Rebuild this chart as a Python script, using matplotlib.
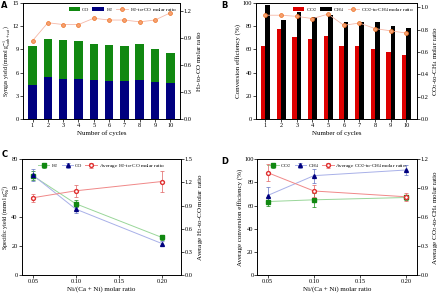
import numpy as np
import matplotlib
matplotlib.use("Agg")
import matplotlib.pyplot as plt

plt.rcParams['font.family'] = ['Liberation Serif', 'DejaVu Serif']
plt.rcParams['mathtext.fontset'] = 'stix'
plt.rcParams['font.size'] = 5

# ---- data ----
cycles = np.arange(1, 11)
h2_yield = [4.37, 5.40, 5.19, 5.14, 5.06, 4.97, 4.93, 5.01, 4.76, 4.63]
total_yield = [9.43, 10.37, 10.16, 10.07, 9.64, 9.51, 9.47, 9.69, 9.09, 8.57]
co_yield = [t - h for t, h in zip(total_yield, h2_yield)]
h2_co_ratio = [0.87, 1.07, 1.05, 1.05, 1.12, 1.10, 1.10, 1.08, 1.10, 1.18]

co2_conv = [62.7, 77.4, 70.5, 69.3, 71.3, 62.7, 63.3, 60.5, 57.6, 55.6]
ch4_conv = [98.5, 85.0, 92.3, 88.0, 89.4, 84.0, 83.7, 84.0, 80.0, 78.2]
co2_ch4_ratio = [0.93, 0.93, 0.92, 0.90, 0.94, 0.84, 0.86, 0.81, 0.79, 0.77]

ni_ratio = [0.05, 0.10, 0.20]
h2_spec = [68.5, 49.2, 26.0]
h2_spec_err = [3.0, 2.5, 1.5]
co_spec = [69.0, 45.5, 21.8]
co_spec_err = [4.0, 3.0, 1.5]
avg_h2co = [1.00, 1.09, 1.21]
avg_h2co_err = [0.05, 0.08, 0.14]

co2_avg = [63.4, 64.9, 66.9]
co2_avg_err = [4.0, 6.0, 2.0]
ch4_avg = [68.6, 85.7, 90.6]
ch4_avg_err = [7.0, 6.0, 4.0]
avg_co2ch4 = [1.06, 0.87, 0.81]
avg_co2ch4_err = [0.09, 0.06, 0.04]

fig = plt.figure(figsize=(4.4, 2.94), dpi=100)


def style(ax):
    ax.tick_params(direction='out', length=2, width=0.5, pad=0.8, labelsize=4.6)
    for s in ax.spines.values():
        s.set_linewidth(0.6)


legkw = dict(ncol=3, frameon=False, fontsize=3.8, handlelength=2.2,
             handleheight=0.8, columnspacing=0.6, handletextpad=0.3,
             borderaxespad=0.2)

# ---- A ----
axA = fig.add_axes([0.052, 0.595, 0.357, 0.395])
axA.bar(cycles, h2_yield, width=0.55, color='#00007f', label='H$_2$')
axA.bar(cycles, co_yield, bottom=h2_yield, width=0.55, color='#118811', label='CO')
axA.set_xlim(0.37, 10.63)
axA.set_ylim(0, 15)
axA.set_yticks([0, 3, 6, 9, 12, 15])
axA.set_xticks(cycles)
axA.set_xlabel('Number of cycles', labelpad=1.5)
axA.set_ylabel('Syngas yield (mmol g$^{-1}_{\\mathrm{sorb+cat}}$)', fontsize=4.2)
axA.yaxis.set_label_coords(-0.062, 0.5)
axA2 = axA.twinx()
axA2.plot(cycles, h2_co_ratio, '-o', color='#f5b8a8', lw=0.6, ms=2.8,
          mfc='#f4a070', mec='#f07020', mew=0.5, label='H$_2$-to-CO molar ratio')
axA2.set_ylim(0, 1.29)
axA2.set_yticks([0, 0.3, 0.6, 0.9, 1.2])
axA2.set_ylabel('H$_2$-to-CO molar ratio', labelpad=2)
for a in (axA, axA2):
    style(a)
h1, l1 = axA.get_legend_handles_labels()
h2, l2 = axA2.get_legend_handles_labels()
axA.legend([h1[1], h1[0], h2[0]], [l1[1], l1[0], l2[0]], loc='upper right', **legkw)

# ---- B ----
axB = fig.add_axes([0.582, 0.595, 0.365, 0.395])
axB.bar(cycles - 0.14, co2_conv, width=0.28, color='#dd0000', label='CO$_2$')
axB.bar(cycles + 0.14, ch4_conv, width=0.28, color='black', label='CH$_4$')
axB.set_xlim(0.4, 10.65)
axB.set_ylim(0, 100)
axB.set_xticks(cycles)
axB.set_xlabel('Number of cycles', labelpad=1.5)
axB.set_ylabel('Conversion efficiency (%)', labelpad=1)
axB2 = axB.twinx()
axB2.plot(cycles, co2_ch4_ratio, '-o', color='#f5b8a8', lw=0.6, ms=2.8,
          mfc='#f4a070', mec='#f07020', mew=0.5, label='CO$_2$-to-CH$_4$ molar ratio')
axB2.set_ylim(0, 1.04)
axB2.set_yticks([0, 0.2, 0.4, 0.6, 0.8, 1.0])
axB2.set_ylabel('CO$_2$-to-CH$_4$ molar ratio', labelpad=2)
for a in (axB, axB2):
    style(a)
h1, l1 = axB.get_legend_handles_labels()
h2, l2 = axB2.get_legend_handles_labels()
axB.legend(h1 + h2, l1 + l2, loc='upper right', **legkw)

# ---- C ----
axC = fig.add_axes([0.049, 0.064, 0.362, 0.395])
ek = dict(capsize=1.5, elinewidth=0.5, capthick=0.5, lw=0.7, ms=2.8)
axC.errorbar(ni_ratio, h2_spec, yerr=h2_spec_err, fmt='-s', color='#99d699',
             mfc='#118811', mec='#118811', ecolor='#118811', label='H$_2$', **ek)
axC.errorbar(ni_ratio, co_spec, yerr=co_spec_err, fmt='-^', color='#a8b0e8',
             mfc='#00007f', mec='#00007f', ecolor='#6070c0', label='CO', **ek)
axC.set_xlim(0.037, 0.222)
axC.set_ylim(0, 80)
axC.set_yticks([0, 20, 40, 60, 80])
axC.set_xticks([0.05, 0.10, 0.15, 0.20])
axC.set_xticklabels(['0.05', '0.10', '0.15', '0.20'])
axC.set_xlabel('Ni/(Ca + Ni) molar ratio', labelpad=1.5)
axC.set_ylabel('Specific yield (mmol g$^{-1}_{\\mathrm{Ni}}$)', fontsize=4.4)
axC.yaxis.set_label_coords(-0.06, 0.5)
axC2 = axC.twinx()
axC2.errorbar(ni_ratio, avg_h2co, yerr=avg_h2co_err, fmt='-o', color='#f08888',
              mfc='white', mec='#e03030', ecolor='#e06060',
              label='Average H$_2$-to-CO molar ratio', **ek)
axC2.set_ylim(0, 1.5)
axC2.set_yticks([0, 0.3, 0.6, 0.9, 1.2, 1.5])
axC2.set_ylabel('Average H$_2$-to-CO molar ratio', labelpad=2)
for a in (axC, axC2):
    style(a)
h1, l1 = axC.get_legend_handles_labels()
h2, l2 = axC2.get_legend_handles_labels()
axC.legend(h1 + h2, l1 + l2, loc='upper center', **legkw)

# ---- D ----
axD = fig.add_axes([0.585, 0.064, 0.362, 0.395])
axD.errorbar(ni_ratio, co2_avg, yerr=co2_avg_err, fmt='-s', color='#99d699',
             mfc='#118811', mec='#118811', ecolor='#118811', label='CO$_2$', **ek)
axD.errorbar(ni_ratio, ch4_avg, yerr=ch4_avg_err, fmt='-^', color='#a8b0e8',
             mfc='#00007f', mec='#00007f', ecolor='#6070c0', label='CH$_4$', **ek)
axD.set_xlim(0.039, 0.211)
axD.set_ylim(0, 100)
axD.set_xticks([0.05, 0.10, 0.15, 0.20])
axD.set_xticklabels(['0.05', '0.10', '0.15', '0.20'])
axD.set_xlabel('Ni/(Ca + Ni) molar ratio', labelpad=1.5)
axD.set_ylabel('Average conversion efficiency (%)', labelpad=1)
axD2 = axD.twinx()
axD2.errorbar(ni_ratio, avg_co2ch4, yerr=avg_co2ch4_err, fmt='-o', color='#f08888',
              mfc='white', mec='#e03030', ecolor='#e06060',
              label='Average CO$_2$-to-CH$_4$ molar ratio', **ek)
axD2.set_ylim(0, 1.2)
axD2.set_yticks([0, 0.3, 0.6, 0.9, 1.2])
axD2.set_ylabel('Average CO$_2$-to-CH$_4$ molar ratio', labelpad=2)
for a in (axD, axD2):
    style(a)
h1, l1 = axD.get_legend_handles_labels()
h2, l2 = axD2.get_legend_handles_labels()
axD.legend(h1 + h2, l1 + l2, loc='upper center', **legkw)

# panel letters
for x, y, t in [(0.003, 0.995, 'A'), (0.503, 0.995, 'B'),
                (0.003, 0.49, 'C'), (0.503, 0.465, 'D')]:
    fig.text(x, y, t, family='DejaVu Sans', weight='bold', fontsize=6, va='top')

fig.savefig('out.png', dpi=100)
